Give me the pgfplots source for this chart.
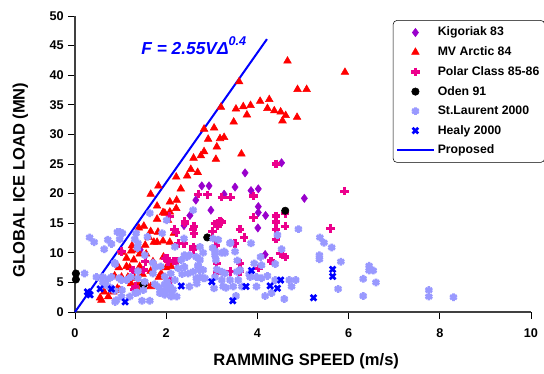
\documentclass[border=0pt]{standalone}
\usepackage{fontspec}
\setmainfont{Liberation Sans}
\usepackage{pgfplots}
\pgfplotsset{compat=1.18}
\definecolor{kig}{RGB}{153,0,204}
\definecolor{stl}{RGB}{153,153,255}
\begin{document}
\begin{tikzpicture}
\path[use as bounding box] (-56.25pt,-46.5pt) rectangle (351.75pt,234pt);
\begin{axis}[
 at={(0,0)}, anchor=south west,
 scale only axis, width=342pt, height=222pt,
 xmin=0, xmax=10, ymin=0, ymax=50,
 enlargelimits=false, clip=false,
 axis lines*=left,
 xtick={0,2,4,6,8,10}, ytick={0,5,10,15,20,25,30,35,40,45,50},
 tick align=outside, major tick length=5pt,
 tick style={black, line width=0.7pt},
 axis line style={black!75, line width=0.8pt},
 ticklabel style={font=\bfseries\fontsize{9.5}{11}\selectfont},
 xticklabel style={yshift=-4pt},
 /pgf/number format/assume math mode=true,
 xlabel={RAMMING SPEED (m/s)}, ylabel={GLOBAL ICE LOAD (MN)},
 label style={font=\bfseries\fontsize{12.4}{14}\selectfont},
 xlabel style={at={(axis description cs:0.507,-0.168)}, anchor=center},
 ylabel style={at={(axis description cs:-0.12,0.446)}, anchor=center},
 legend style={at={(axis description cs:0.697,0.986)}, anchor=north west, draw=black, rounded corners=3pt,
   font=\bfseries\fontsize{9.2}{11}\selectfont, row sep=2.6pt, inner xsep=2pt, inner ysep=3pt, cells={anchor=west}},
 legend image code/.code={\draw[mark repeat=2,mark phase=2] plot coordinates {(0pt,0pt) (14pt,0pt) (28pt,0pt)};},
]
\addplot[only marks, mark=diamond*, mark size=3.1pt, color=kig] coordinates {
(4.53,25.2)(3.73,23.5)(3.86,20.5)(4.02,20.8)(2.78,21.3)(2.94,21.3)(3.51,21.1)(3.27,19.9)(5.03,19.2)(4.02,17.8)
(4.02,16.8)(4.18,16.3)(4.01,14.2)(4.17,9.7)(2.65,18.9)(2.98,17.2)(2.52,16.3)(2.39,14.6)(1.43,10.5)
};
\addlegendentry{Kigoriak 83}
\addplot[only marks, mark=triangle*, mark size=3.3pt, color=red] coordinates {
(4.66,42.4)(5.92,40.5)(4.88,37.6)(5.08,37.6)(3.85,34.9)(4.06,35.6)(4.26,35.9)(4.22,34.4)(4.37,34.0)(4.51,33.8)
(4.62,33.2)(4.55,32.3)(4.87,32.9)(3.77,33.3)
(3.60,38.9)(3.20,34.6)(3.53,34.3)(3.69,34.7)(3.48,32.1)(3.05,31.1)(2.83,30.9)(2.92,29.2)(3.18,29.3)(3.27,29.5)
(3.11,27.9)(2.83,27.1)(2.76,26.4)(2.60,26.0)(3.09,25.8)(3.65,26.7)(2.54,24.1)(2.69,23.6)(2.46,23.0)(2.22,22.8)
(2.32,20.8)(1.83,21.3)(1.66,19.9)
(1.80,17.9)(1.93,16.8)(2.08,16.9)(2.22,17.5)(2.04,15.5)(1.80,15.7)(1.51,14.5)(1.40,14.2)(1.66,13.6)(1.82,13.5)
(1.62,12.6)(1.73,11.8)(1.80,11.8)(1.93,12.0)(2.08,11.8)(1.54,11.3)(1.23,10.3)(1.34,10.5)(1.42,9.8)(1.56,9.8)
(1.03,10.1)(1.13,9.1)(1.29,8.8)(0.96,7.5)(1.13,7.7)(1.20,7.5)(1.42,7.7)(1.66,6.9)(0.87,6.1)(1.02,5.9)
(1.16,5.9)(1.31,5.7)(1.48,6.4)(1.84,5.9)(1.23,4.8)(1.38,4.7)(1.56,4.8)(1.66,4.3)(0.64,3.4)(0.58,2.0)
(0.93,4.0)(0.98,3.7)(1.38,3.8)(1.71,8.5)(1.94,9.3)(2.00,7.5)(2.11,7.7)(1.89,6.5)(1.25,11.2)(2.17,13.3)
(2.08,18.6)(2.23,18.9)(1.97,16.7)(0.84,3.4)(0.73,2.6)(0.55,2.4)
};
\addlegendentry{MV Arctic 84}
\addplot[only marks, mark=+, mark size=3.2pt, color=magenta, line width=2.4pt, mark options={line width=2.4pt}] coordinates {
(4.41,25.0)(3.91,19.6)(5.91,20.4)(3.91,16.0)(4.41,16.2)(4.41,15.2)(4.41,14.0)(4.41,12.3)(4.61,14.5)(4.61,16.6)
(3.71,12.6)(5.60,14.1)(3.62,14.0)(4.50,9.9)(4.61,9.3)(4.30,8.6)(3.62,8.2)(3.62,6.8)(4.02,7.4)(2.90,19.8)
(3.22,19.4)(3.41,19.4)(3.07,14.9)(3.22,15.2)(3.12,14.5)(3.01,13.6)(3.51,11.6)(3.09,11.3)(3.41,6.8)(3.11,6.6)
(2.70,19.9)(2.61,14.5)(2.61,13.2)(2.59,10.5)(2.41,15.0)(2.22,13.4)(2.39,11.6)(1.02,10.2)(2.02,9.1)(2.04,8.5)
(2.17,8.6)(2.24,8.5)(1.54,8.5)(1.51,7.1)(1.27,7.1)(2.10,5.4)(1.29,3.8)(2.08,16.1)(2.18,14.0)(2.41,15.3)
(2.59,14.0)(3.18,15.4)(2.27,11.6)(2.59,11.0)(1.97,9.1)(3.11,8.2)(1.32,4.3)
};
\addlegendentry{Polar Class 85-86}
\addplot[only marks, mark=*, mark size=2.8pt, color=black] coordinates {
(0.02,6.5)(0.02,5.5)(1.50,4.6)(2.90,12.6)(4.61,17.1)
};
\addlegendentry{Oden 91}
\addplot[only marks, mark=asterisk, mark size=2.9pt, color=stl, line width=2pt, mark options={line width=2pt}] coordinates {
(5.63,10.9)(5.83,8.5)(6.45,7.8)(6.45,7.0)(6.54,7.0)(6.32,5.6)(6.60,5.0)(5.77,3.9)(6.32,2.7)(7.76,3.7)
(7.76,2.6)(8.30,2.5)
(4.90,14.0)(5.37,12.6)(5.46,11.7)(5.36,9.6)(5.36,8.9)(3.86,11.6)(4.44,13.0)(4.53,10.6)(4.07,9.3)(3.93,8.2)
(4.09,7.9)(4.39,8.1)(3.82,6.4)(3.98,5.9)(4.09,5.7)(4.22,6.1)(4.39,5.4)(4.70,5.4)(4.84,5.4)(4.75,4.3)
(3.98,4.3)(4.17,2.7)(4.31,3.2)(4.59,2.2)
(3.41,11.7)(2.81,10.0)(3.07,10.3)(3.22,10.0)(3.29,10.0)(3.09,8.8)(2.74,8.8)(3.56,8.7)(2.81,7.1)(3.11,7.2)
(3.22,6.8)(3.29,6.5)(3.62,7.1)(3.55,6.8)(2.85,5.7)(3.07,5.9)(3.22,5.4)(3.40,5.4)(3.58,5.4)(3.84,5.9)
(3.66,4.3)(3.47,4.3)(3.31,4.1)(3.05,4.0)(2.74,5.9)(3.53,2.7)
(0.98,13.5)(1.04,13.3)(0.93,13.5)(0.32,12.6)(0.42,11.8)(0.72,12.2)(0.64,10.6)(0.80,11.5)(0.87,8.3)(0.61,5.9)
(0.21,6.5)(0.80,5.9)(0.66,4.6)(0.87,3.6)(1.03,3.7)(0.91,2.0)(1.47,1.9)(1.64,1.9)(1.20,2.6)(1.37,3.3)
(1.64,16.7)(1.38,11.6)(1.31,12.3)(1.53,9.6)(1.37,10.8)(1.71,8.3)(1.38,6.9)(1.13,5.4)(1.22,5.9)(1.38,5.7)
(1.53,5.1)(1.75,4.7)(1.84,4.2)(1.97,4.7)(2.08,4.3)(2.19,5.4)(2.15,3.8)(2.35,6.4)(2.48,6.5)(2.59,6.8)
(2.66,5.7)(2.51,4.3)(2.73,7.1)(1.88,7.7)(1.71,6.5)(1.76,7.6)(2.10,6.5)(2.40,7.6)(2.26,7.4)(2.33,8.8)
(2.70,7.7)(2.51,9.6)(1.97,6.0)(2.66,9.3)(2.40,9.6)(1.59,12.7)(1.34,13.3)(0.98,12.3)(1.02,5.4)(0.72,5.5)
(0.76,4.2)(2.02,5.1)(1.97,2.9)(1.89,3.7)(2.11,2.6)
(0.47,5.9)(0.61,5.0)(0.88,8.1)(0.97,5.7)(0.88,1.7)(1.91,13.3)(2.01,15.5)(2.39,12.4)(2.59,17.2)(2.19,11.0)
(3.03,12.4)(3.02,10.8)(3.40,11.6)(3.07,9.6)(3.27,10.2)(3.51,10.2)(3.14,12.2)(2.74,11.0)(2.45,9.3)(2.70,7.9)
(3.25,4.3)(2.67,4.8)(2.81,5.7)(1.50,3.7)(1.02,2.6)(1.32,3.2)(2.01,3.7)(2.12,3.2)(2.23,2.6)(1.86,3.2)
};
\addlegendentry{St.Laurent 2000}
\addplot[only marks, mark=x, mark size=3pt, color=blue, line width=2pt, mark options={line width=2pt}] coordinates {
(0.27,3.4)(0.33,2.9)(0.30,3.1)(0.55,3.9)(0.80,3.9)(1.10,1.7)(2.33,4.4)(3.00,5.1)(3.87,7.0)(3.75,4.3)
(4.28,4.4)(4.44,4.0)(4.51,5.4)(3.46,1.9)(5.23,2.4)(5.65,7.2)(5.65,6.0)
};
\addlegendentry{Healy 2000}
\addplot[color=blue, line width=1.5pt] coordinates {(0,0) (4.21,46.1)};
\addlegendentry{Proposed}
\node[anchor=west, text=blue, font=\bfseries\itshape\fontsize{13}{15}\selectfont, inner sep=0pt] at (axis cs:1.45,45.0)
 {F = 2.55VΔ\raisebox{0.55em}{\fontsize{9.5}{10}\selectfont 0.4}};
\end{axis}
\end{tikzpicture}
\end{document}
